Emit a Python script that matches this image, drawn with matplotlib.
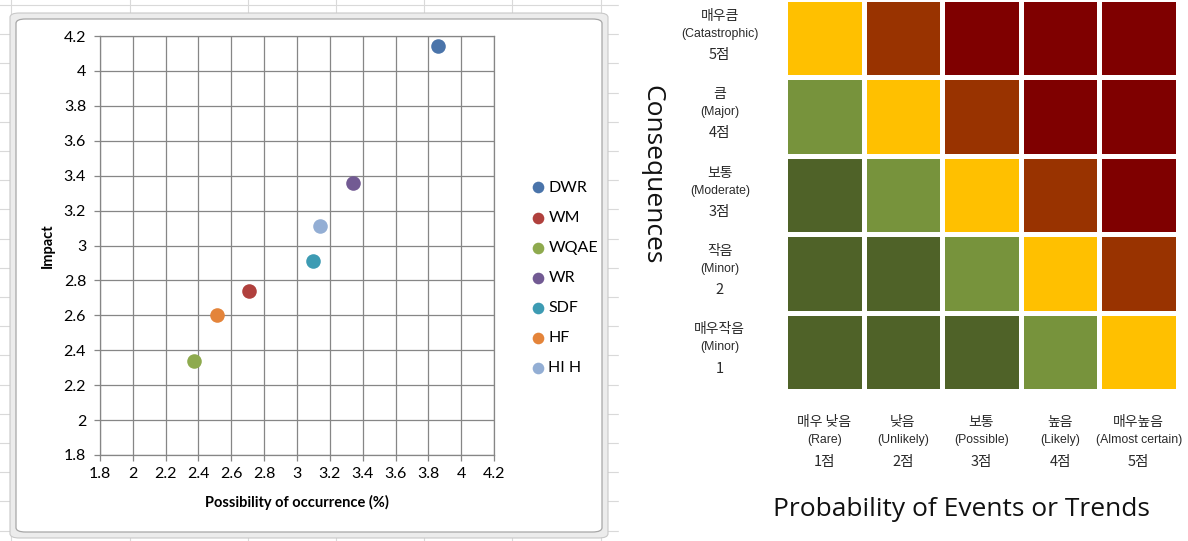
import matplotlib
matplotlib.use("Agg")
import matplotlib.pyplot as plt
import numpy as np
from matplotlib.colors import ListedColormap
from matplotlib.patches import FancyBboxPatch
from matplotlib.lines import Line2D

# ---------------- data ----------------
series = ["DWR", "WM", "WQAE", "WR", "SDF", "HF", "HIH"]
legend_labels = ["DWR", "WM", "WQAE", "WR", "SDF", "HF", "HI H"]
possibility = [3.86, 2.71, 2.37, 3.34, 3.10, 2.51, 3.14]
impact = [4.14, 2.74, 2.34, 3.36, 2.91, 2.60, 3.11]
series_colors = ["#4A74AA", "#B0403D", "#8EAA4E", "#725A93", "#3D9BB3", "#E4843A", "#93AED4"]
x_ticks = [1.8, 2.0, 2.2, 2.4, 2.6, 2.8, 3.0, 3.2, 3.4, 3.6, 3.8, 4.0, 4.2]
y_ticks = [1.8, 2.0, 2.2, 2.4, 2.6, 2.8, 3.0, 3.2, 3.4, 3.6, 3.8, 4.0, 4.2]
x_ticklabels = ["1.8", "2", "2.2", "2.4", "2.6", "2.8", "3", "3.2", "3.4", "3.6", "3.8", "4", "4.2"]
y_ticklabels = x_ticklabels

# risk matrix: rows = consequence 1..5 (bottom to top), cols = probability 1..5
risk_levels = [
    [0, 0, 0, 1, 2],   # consequence 1
    [0, 0, 1, 2, 3],   # consequence 2
    [0, 1, 2, 3, 4],   # consequence 3
    [1, 2, 3, 4, 4],   # consequence 4
    [2, 3, 4, 4, 4],   # consequence 5
]
risk_colors = ["#4F6228", "#77933C", "#FFC000", "#993300", "#7F0000"]
row_kr = ["매우작음", "작음", "보통", "큼", "매우큼"]
row_en = ["(Minor)", "(Minor)", "(Moderate)", "(Major)", "(Catastrophic)"]
row_num = ["1", "2", "3점", "4점", "5점"]
col_kr = ["매우 낮음", "낮음", "보통", "높음", "매우높음"]
col_en = ["(Rare)", "(Unlikely)", "(Possible)", "(Likely)", "(Almost certain)"]
col_num = ["1점", "2점", "3점", "4점", "5점"]

W, H = 1188, 541
fig = plt.figure(figsize=(W / 100, H / 100), dpi=100)
fig.patch.set_facecolor("white")

def fx(x):
    return x / W

def fy(y):
    return 1 - y / H

# ---------------- spreadsheet background ----------------
grid_c = "#D9D9D9"
for xv in [11, 130, 248, 336, 424, 512, 601]:
    fig.add_artist(Line2D([fx(xv), fx(xv)], [fy(0), fy(541)], color=grid_c, lw=0.8, zorder=0.2))
yv = 5.0
while yv < 541:
    fig.add_artist(Line2D([fx(0), fx(618)], [fy(yv), fy(yv)], color=grid_c, lw=0.8, zorder=0.2))
    yv += 29.2
# white cover between sheet and heatmap image
fig.add_artist(plt.Rectangle((fx(619), 0), fx(W - 619), 1, color="white", zorder=0.5))

# chart frame
frame_outer = FancyBboxPatch((fx(10), fy(538)), fx(598), (538 - 13) / H,
                             boxstyle="round,pad=0,rounding_size=0.008",
                             facecolor="#ECECEC", edgecolor="#C8C8C8", lw=0.8,
                             transform=fig.transFigure, zorder=1)
fig.add_artist(frame_outer)
frame_inner = FancyBboxPatch((fx(16), fy(532)), fx(586), (532 - 19) / H,
                             boxstyle="round,pad=0,rounding_size=0.008",
                             facecolor="white", edgecolor="#A6A6A6", lw=0.9,
                             transform=fig.transFigure, zorder=1.1)
fig.add_artist(frame_inner)

# ---------------- scatter chart ----------------
ax = fig.add_axes([fx(100), fy(455), fx(394), 419 / H], zorder=2)
ax.set_facecolor("none")
for name, lab, xv_, yv_, c in zip(series, legend_labels, possibility, impact, series_colors):
    ax.scatter([xv_], [yv_], s=110, color=c, label=lab, zorder=3, linewidths=0)
ax.set_xlim(1.8, 4.2)
ax.set_ylim(1.8, 4.2)
ax.set_xticks(x_ticks)
ax.set_yticks(y_ticks)
tick_font = dict(family="Lato", size=11.5)
ax.set_xticklabels(x_ticklabels, **tick_font)
ax.set_yticklabels(y_ticklabels, **tick_font)
ax.grid(True, color="#868686", lw=0.9)
ax.set_axisbelow(True)
for sp in ax.spines.values():
    sp.set_color("#868686")
    sp.set_linewidth(0.9)
ax.tick_params(axis="both", length=4, color="#868686", width=0.9, pad=5)
ax.tick_params(axis="y", pad=6)
ax.set_xlabel("Possibility of occurrence (%)", family="Lato", weight="bold", size=10.5, labelpad=10)
ax.set_ylabel("Impact", family="Lato", weight="bold", size=10.5, labelpad=6)

leg = ax.legend(loc="upper left", bbox_to_anchor=(fx(522), fy(174)), bbox_transform=fig.transFigure,
                frameon=False, prop=dict(family="Lato", size=11.5), handletextpad=0.05,
                labelspacing=1.0, handlelength=1.2, markerscale=0.8, borderaxespad=0)

# ---------------- risk matrix ----------------
ax2 = fig.add_axes([fx(785), fy(391), fx(393), 392 / H], zorder=2)
cmap = ListedColormap(risk_colors)
ax2.pcolormesh(np.arange(6), np.arange(6), np.array(risk_levels), cmap=cmap, vmin=-0.5, vmax=4.5,
               edgecolors="white", linewidth=2.4)
ax2.set_xlim(0, 5)
ax2.set_ylim(0, 5)
ax2.axis("off")

kr_font = ["Noto Sans CJK KR", "DejaVu Sans"]
en_font = ["Liberation Sans Narrow", "Liberation Sans", "DejaVu Sans"]
lab_c = "#2A2A2A"
for r in range(5):
    yc = r + 0.5
    ax2.text(-0.83, yc + 0.285, row_kr[r], ha="center", va="center", family=kr_font, size=10,
             weight="medium", color=lab_c)
    ax2.text(-0.83, yc + 0.055, row_en[r], ha="center", va="center", family=en_font, size=8.8, color=lab_c)
    ax2.text(-0.83, yc - 0.215, row_num[r], ha="center", va="center", family=kr_font, size=10.5, color=lab_c)
for c in range(5):
    xc = c + 0.5
    ax2.text(xc, -0.40, col_kr[c], ha="center", va="center", family=kr_font, size=10,
             weight="medium", color=lab_c)
    ax2.text(xc, -0.63, col_en[c], ha="center", va="center", family=en_font, size=8.8, color=lab_c)
    ax2.text(xc, -0.90, col_num[c], ha="center", va="center", family=kr_font, size=10.5, color=lab_c)

fig.text(fx(652), fy(175), "Consequences", rotation=-90, ha="center", va="center",
         family="Open Sans", size=19, color="#111111")
fig.text(fx(961), fy(509), "Probability of Events or Trends", ha="center", va="center",
         family="Open Sans", size=19, color="#111111")

fig.savefig("out.png", dpi=100)
